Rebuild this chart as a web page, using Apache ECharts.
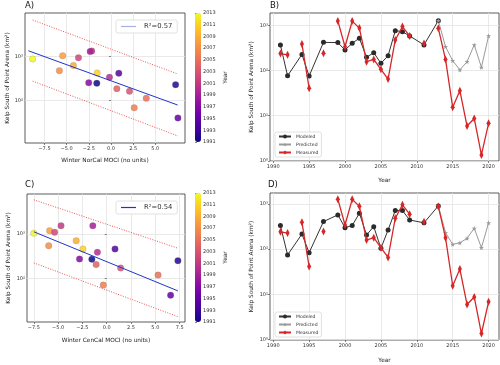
<!DOCTYPE html>
<html><head><meta charset="utf-8">
<script src="https://cdn.jsdelivr.net/npm/echarts@6/dist/echarts.min.js"></script>
<style>html,body{margin:0;padding:0;background:#fff}#c{width:500px;height:365px}</style>
</head><body><div id="c"></div>
<script>
// ---------- Panel A: Winter NorCal MOCI vs kelp ----------
const aMoci = [-8.84, -5.45, -5.82, -3.67, -2.17, -2.35, -4.24, -1.56, -2.51, -1.60, -0.17, 0.88, 0.66, 2.09, 3.98, 2.62, 7.29, 7.55];
const aKelp = [877, 1040, 475, 940, 1335, 1290, 620, 420, 253, 245, 337, 415, 185, 161, 112, 68, 228, 40];
const aYear = [2013, 2008, 2007, 2002, 2001, 1999, 2009, 2011, 1997, 1991, 2000, 1994, 2004, 2003, 2005, 2006, 1992, 1995];
const aFitX = [-9.32, 7.52];
const aFitY = [1349, 78.5];
const aUpX = [-8.84, 7.55];
const aUpY = [6760, 398];
const aLoX = [-8.84, 7.55];
const aLoY = [275, 15.5];
const aLabel = 'R²=0.57';

// ---------- Panel C: Winter CenCal MOCI vs kelp ----------
const cMoci = [-7.5, -5.87, -5.36, -4.70, -1.43, -3.14, -5.97, -2.45, -0.96, 0.85, -2.80, -1.53, -1.09, 1.43, 5.28, -0.35, 7.32, 6.57];
const cKelp = [1037, 1190, 1093, 1540, 1540, 706, 545, 459, 388, 459, 274, 270, 205, 172, 119, 71, 251, 42];
const cYear = [2013, 2008, 2002, 2001, 1999, 2009, 2007, 2011, 2000, 1994, 1997, 1991, 2004, 2003, 2005, 2006, 1992, 1995];
const cFitX = [-7.5, 7.32];
const cFitY = [1122, 52.5];
const cUpX = [-7.5, 7.32];
const cUpY = [5890, 479];
const cLoX = [-7.5, 7.32];
const cLoY = [224, 13.8];
const cLabel = 'R²=0.54';

// ---------- Panels B & D: time series ----------
const modYears = [1991,1992,1994,1995,1997,1999,2000,2001,2002,2003,2004,2005,2006,2007,2008,2009,2011,2013];
const bModeled = [370,77,230,76,425,420,288,407,525,198,251,146,214,774,735,590,373,1290];
const dModeled = [330,74,215,83,405,570,297,330,620,205,313,104,264,710,710,440,380,900];
const predYears = [2013,2014,2015,2016,2017,2018,2019,2020];
const bPredicted = [1290,340,167,104,158,373,119,590];
const dPredicted = [900,230,127,137,173,288,107,380];
const measYears = [1991,1992,1993,1994,1995,1996,1997,1998,1999,2000,2001,2002,2003,2004,2005,2006,2007,2008,2009,2010,2011,2012,2013,2014,2015,2016,2017,2018,2019,2020];
const measured = [240,225,null,390,41,null,243,null,1270,340,1260,880,158,178,107,65,480,950,590,null,400,null,870,178,15.4,36,5.9,8.7,1.35,6.8];

// ---------- tick labels ----------
const mociTicksA = [-7.5, -5.0, -2.5, 0.0, 2.5, 5.0];
const mociTicksC = [-7.5, -5.0, -2.5, 0.0, 2.5, 5.0, 7.5];
const kelpTicksScatter = [100, 1000];
const kelpTicksTS = [1, 10, 100, 1000];
const yearTicks = [1990, 1995, 2000, 2005, 2010, 2015, 2020];
const cbarTicks = [1991,1993,1995,1997,1999,2001,2003,2005,2007,2009,2011,2013];

const FONT = 'DejaVu Sans';
const plasma = ['#0d0887','#41049d','#6a00a8','#8f0da4','#b12a90','#cc4778','#e16462','#f2844b','#fca636','#fcce25','#f0f921'];
const sup = {'0':'⁰','1':'¹','2':'²','3':'³','4':'⁴','-':'⁻'};
const powLabel = v => { const e = Math.round(Math.log10(v)); return '10' + String(e).split('').map(c=>sup[c]).join(''); };
const mociLabel = v => (v < 0 ? '−' : '') + Math.abs(v).toFixed(1);

const gridStyle = {show:true, borderColor:'#333', borderWidth:0.8, backgroundColor:'#fff'};
const grids = [
  Object.assign({left:25, top:13, width:160, height:130}, gridStyle),   // A
  {left:195, top:13, width:6, height:129, show:false},                   // A cbar
  Object.assign({left:270, top:13, width:229, height:148}, gridStyle),   // B
  Object.assign({left:27, top:194, width:158, height:128}, gridStyle),   // C
  {left:195, top:193, width:6, height:129, show:false},                  // C cbar
  Object.assign({left:270, top:193, width:229, height:147}, gridStyle)   // D
];
const split = {show:true, lineStyle:{color:'#e3e3e3', width:0.8}};
const tick = (vals) => ({show:true, customValues:vals, length:2, lineStyle:{color:'#333', width:0.6}});
const lbl = (vals, fmt, extra) => Object.assign({customValues:vals, formatter:fmt, fontSize:5, color:'#333', fontFamily:FONT, margin:3}, extra||{});
const nameStyle = {fontSize:5.8, color:'#222', fontFamily:FONT};

function xMoci(gi, min, max, ticks, name, gap) {
  return {gridIndex:gi, type:'value', min, max, axisLine:{show:false}, axisTick:tick(ticks),
    axisLabel:lbl(ticks, mociLabel), splitLine:split, name, nameLocation:'middle', nameGap:gap, nameTextStyle:nameStyle};
}
function yLog(gi, min, max, ticks, gap) {
  return {gridIndex:gi, type:'log', logBase:10, min, max, axisLine:{show:false}, axisTick:tick(ticks),
    axisLabel:lbl(ticks, powLabel, {margin:2}), splitLine:split, minorTick:{show:false}, minorSplitLine:{show:false},
    name:'Kelp South of Point Arena (km²)', nameLocation:'middle', nameGap:gap, nameRotate:90, nameTextStyle:nameStyle};
}
function xYear(gi, gap) {
  return {gridIndex:gi, type:'value', min:1989.55, max:2021.45, axisLine:{show:false}, axisTick:tick(yearTicks),
    axisLabel:lbl(yearTicks, v=>String(v)), splitLine:split, name:'Year', nameLocation:'middle', nameGap:gap, nameTextStyle:nameStyle};
}
function cbarY(gi) {
  return {gridIndex:gi, type:'value', min:1991, max:2013, position:'right', axisLine:{show:false},
    axisTick:tick(cbarTicks), axisLabel:lbl(cbarTicks, v=>String(v), {margin:2}), splitLine:{show:false},
    name:'Year', nameLocation:'middle', nameGap:21, nameRotate:90, nameTextStyle:nameStyle};
}
const hiddenX = gi => ({gridIndex:gi, type:'value', min:0, max:1, show:false});

const xAxis = [
  xMoci(0, -9.7, 8.35, mociTicksA, 'Winter NorCal MOCI (no units)', 14),
  hiddenX(1),
  xYear(2, 16),
  xMoci(3, -8.2, 8.05, mociTicksC, 'Winter CenCal MOCI (no units)', 15),
  hiddenX(4),
  xYear(5, 17)
];
const yAxis = [
  yLog(0, Math.pow(10,1.03), Math.pow(10,3.99), kelpTicksScatter, 14),
  cbarY(1),
  yLog(2, 0.99, Math.pow(10,3.28), kelpTicksTS, 16),
  yLog(3, Math.pow(10,1.02), Math.pow(10,3.9), kelpTicksScatter, 16),
  cbarY(4),
  yLog(5, 0.97, Math.pow(10,3.24), kelpTicksTS, 16)
];

function scatterPanel(gi, xs, ys, yrs, fitX, fitY, upX, upY, loX, loY, label, fitColor) {
  return [
    {type:'scatter', xAxisIndex:gi, yAxisIndex:gi, symbolSize:6.5,
     data: xs.map((x,i)=>[x, ys[i], yrs[i]]),
     itemStyle:{opacity:0.85, borderColor:'rgba(110,110,110,0.6)', borderWidth:0.4}, z:3},
    {type:'line', name:label, xAxisIndex:gi, yAxisIndex:gi, showSymbol:false, symbol:'none',
     data: fitX.map((x,i)=>[x, fitY[i]]), lineStyle:{color:fitColor, width:1}, itemStyle:{color:fitColor}, z:4},
    {type:'line', xAxisIndex:gi, yAxisIndex:gi, showSymbol:false, symbol:'none',
     data: upX.map((x,i)=>[x, upY[i]]), lineStyle:{color:'#e8413c', width:0.9, type:[1,1.5]}, z:2},
    {type:'line', xAxisIndex:gi, yAxisIndex:gi, showSymbol:false, symbol:'none',
     data: loX.map((x,i)=>[x, loY[i]]), lineStyle:{color:'#e8413c', width:0.9, type:[1,1.5]}, z:2}
  ];
}
const thinDiamond = 'path://M0,-10 L5,0 L0,10 L-5,0 Z';
function tsPanel(gi, modeled, predicted) {
  return [
    {type:'line', name:'Modeled', xAxisIndex:gi, yAxisIndex:gi, data: modYears.map((y,i)=>[y, modeled[i]]),
     symbol:'circle', symbolSize:5, showAllSymbol:true, lineStyle:{color:'#333', width:1}, itemStyle:{color:'#2b2b2b'}, z:3},
    {type:'line', name:'Predicted', xAxisIndex:gi, yAxisIndex:gi, data: predYears.map((y,i)=>[y, predicted[i]]),
     symbol:'path://M0,-10 L2.35,-3.24 L9.51,-3.09 L3.8,1.24 L5.88,8.09 L0,4 L-5.88,8.09 L-3.8,1.24 L-9.51,-3.09 L-2.35,-3.24 Z',
     symbolSize:5, showAllSymbol:true, lineStyle:{color:'#9a9a9a', width:1}, itemStyle:{color:'#9a9a9a'}, z:3},
    {type:'line', name:'Measured', xAxisIndex:gi, yAxisIndex:gi,
     data: measYears.map((y,i)=>[y, measured[i] === null ? '-' : measured[i]]), connectNulls:false,
     symbol:thinDiamond, symbolSize:[4,8], showAllSymbol:true, lineStyle:{color:'#d62728', width:1.3}, itemStyle:{color:'#d62728'}, z:5}
  ];
}

const series = [].concat(
  scatterPanel(0, aMoci, aKelp, aYear, aFitX, aFitY, aUpX, aUpY, aLoX, aLoY, aLabel, '#2233cc'),
  tsPanel(2, bModeled, bPredicted),
  scatterPanel(3, cMoci, cKelp, cYear, cFitX, cFitY, cUpX, cUpY, cLoX, cLoY, cLabel, '#2233cc'),
  tsPanel(5, dModeled, dPredicted)
);
// scatter series indices: A = 0, C = 7

const legBase = {orient:'vertical', backgroundColor:'#fff', borderColor:'#cfcfcf', borderWidth:0.6, borderRadius:2,
  textStyle:{fontSize:4.6, color:'#333', fontFamily:FONT}, selectedMode:false};
const fitLegText = {fontSize:6.8, color:'#333', fontFamily:FONT, padding:[0,0,0,3]};
const legends = [
  Object.assign({}, legBase, {data:[{name:aLabel, icon:'rect', itemStyle:{color:'#a9aee6'}}], left:116, top:20,
    padding:[3,5], itemWidth:15, itemHeight:1.2, textStyle:fitLegText}),
  Object.assign({}, legBase, {data:['Modeled','Predicted','Measured'], left:275, top:132, padding:[2,3], itemWidth:12, itemHeight:5, itemGap:3}),
  Object.assign({}, legBase, {data:[{name:cLabel, icon:'rect', itemStyle:{color:'#2233cc'}}], left:116, top:201,
    padding:[3,5], itemWidth:15, itemHeight:1.2, textStyle:fitLegText}),
  Object.assign({}, legBase, {data:['Modeled','Predicted','Measured'], left:275, top:312, padding:[2,3], itemWidth:12, itemHeight:5, itemGap:3})
];

const vmBase = {type:'continuous', dimension:2, min:1991, max:2013, inRange:{color:plasma}, calculable:false,
  itemWidth:6, itemHeight:129, padding:0, text:null, hoverLink:false, orient:'vertical', showLabel:false};
const visualMap = [
  Object.assign({}, vmBase, {seriesIndex:0, left:195, top:13}),
  Object.assign({}, vmBase, {seriesIndex:7, left:195, top:193})
];

const titleStyle = {fontSize:8.5, fontWeight:'normal', color:'#111', fontFamily:FONT};
const title = [
  {text:'A)', left:25, top:1, padding:0, textStyle:titleStyle},
  {text:'B)', left:270, top:1, padding:0, textStyle:titleStyle},
  {text:'C)', left:25, top:180, padding:0, textStyle:titleStyle},
  {text:'D)', left:268, top:180, padding:0, textStyle:titleStyle}
];

const chart = echarts.init(document.getElementById('c'), null, {renderer:'canvas'});
chart.setOption({
  animation:false, backgroundColor:'#fff', textStyle:{fontFamily:FONT},
  title, grid:grids, xAxis, yAxis, series, legend:legends, visualMap
});
</script></body></html>
